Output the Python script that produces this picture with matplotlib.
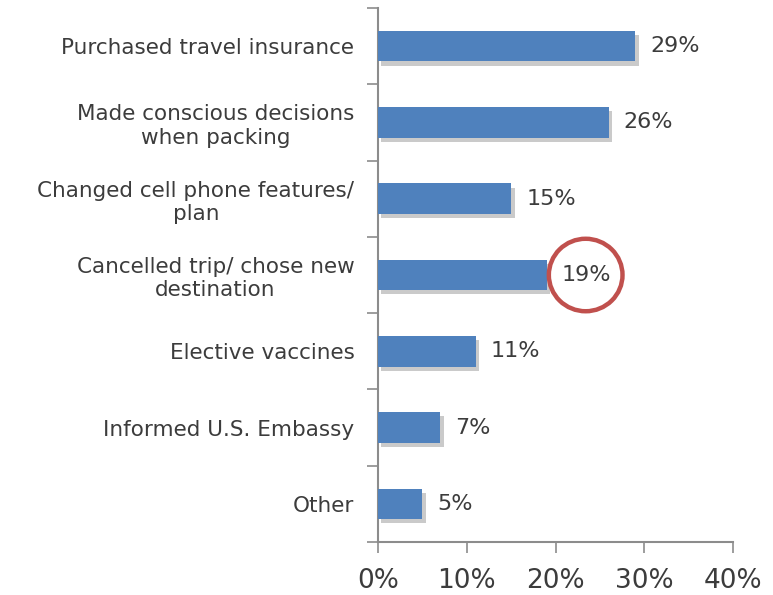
import matplotlib.pyplot as plt
import matplotlib.patheffects as pe
from matplotlib.patches import Ellipse
import numpy as np

categories = ['Purchased travel insurance',
              'Made conscious decisions\nwhen packing',
              'Changed cell phone features/\nplan',
              'Cancelled trip/ chose new\ndestination',
              'Elective vaccines',
              'Informed U.S. Embassy',
              'Other']
values = [29, 26, 15, 19, 11, 7, 5]
xticks = [0, 10, 20, 30, 40]

bar_color = '#4F81BD'
text_color = '#3C3C3C'
axis_color = '#8C8C8C'

fig = plt.figure(figsize=(7.73, 5.95), dpi=100)
ax = fig.add_axes([378 / 773, 53 / 595, 355 / 773, 534 / 595])

y = np.arange(len(categories))
bars = ax.barh(y, values, height=0.4, color=bar_color, zorder=3)
for b in bars:
    b.set_path_effects([pe.SimplePatchShadow(offset=(2.5, -3), shadow_rgbFace='#8a8a8a', alpha=0.45),
                        pe.Normal()])

for yi, v in zip(y, values):
    ax.text(v + 1.7, yi, f'{v}%', va='center', ha='left', fontsize=16, color=text_color)

# highlight circle around the 19% label
ax.add_patch(Ellipse((23.4, 3), width=8.3, height=0.95, fill=False,
                     edgecolor='#C0504D', linewidth=3.2, zorder=5, clip_on=False))

ax.set_xlim(0, 40)
ax.set_ylim(len(categories) - 0.5, -0.5)
ax.set_xticks(xticks)
ax.set_xticklabels([f'{t}%' for t in xticks], fontsize=19, color=text_color)

ax.set_yticks(y)
ax.set_yticklabels(categories, fontsize=15.5, color=text_color, ha='right',
                   multialignment='center', linespacing=1.2)
ax.tick_params(axis='y', which='major', length=0, pad=17)
ax.set_yticks(np.arange(len(categories) + 1) - 0.5, minor=True)
ax.tick_params(axis='y', which='minor', length=8, color=axis_color, width=1.2)
ax.tick_params(axis='x', length=8, color=axis_color, width=1.2, pad=11)

for s in ['top', 'right']:
    ax.spines[s].set_visible(False)
for s in ['left', 'bottom']:
    ax.spines[s].set_color(axis_color)
    ax.spines[s].set_linewidth(1.5)

fig.savefig('out.png', dpi=100)
